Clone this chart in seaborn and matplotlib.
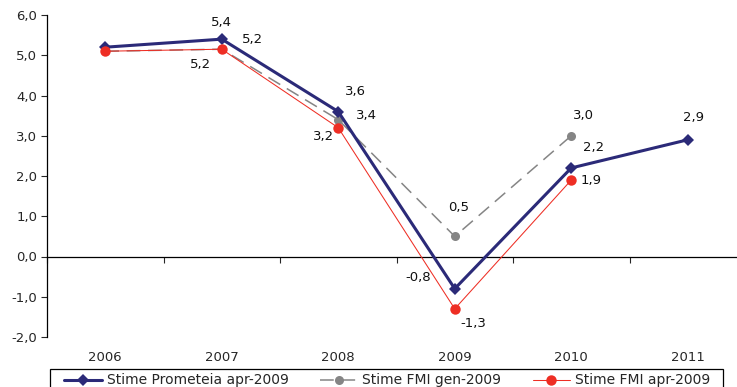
import numpy as np
import pandas as pd
import matplotlib
matplotlib.use("Agg")
import matplotlib.pyplot as plt
from matplotlib.patches import Rectangle
import seaborn as sns

# dati
anni = ['2006', '2007', '2008', '2009', '2010', '2011']
prometeia = [5.2, 5.4, 3.6, -0.8, 2.2, 2.9]
fmi_gen = [5.1, 5.15, 3.4, 0.5, 3.0, np.nan]
fmi_apr = [5.1, 5.15, 3.2, -1.3, 1.9, np.nan]

# offset delle etichette (pixel) per ogni punto etichettato
lab_prometeia = {1: (0, 17), 2: (17, 20), 3: (-37, 11), 4: (22, 20), 5: (6, 22)}
lab_gen = {1: (31, 10), 2: (28, 4), 3: (4, 29), 4: (12, 20)}
lab_apr = {1: (-21, -15), 2: (-15, -9), 3: (19, -15), 4: (20, 0)}

df = pd.DataFrame({'pos': np.arange(len(anni)), 'anno': anni,
                   'Prometeia': prometeia, 'gen': fmi_gen, 'apr': fmi_apr})

sns.set_style('white')
plt.rcParams['font.family'] = ['DejaVu Sans']

fig = plt.figure(figsize=(7.37, 3.87), dpi=100)
ax = fig.add_axes([47 / 737, 1 - 337 / 387, 699 / 737, 322 / 387])

navy = '#2B2A78'
grigio = '#858585'
rosso = '#EE2E24'

sns.lineplot(data=df, x='pos', y='gen', ax=ax, color=grigio, lw=1.1,
             dashes=False, linestyle=(0, (9, 5)), marker='o', markersize=6.5,
             markeredgewidth=0, label='Stime FMI gen-2009', zorder=2)
sns.lineplot(data=df, x='pos', y='Prometeia', ax=ax, color=navy, lw=2.2,
             marker='D', markersize=6.5, markeredgewidth=0,
             label='Stime Prometeia apr-2009', zorder=3)
sns.lineplot(data=df, x='pos', y='apr', ax=ax, color=rosso, lw=0.75,
             marker='o', markersize=7.5, markeredgewidth=0,
             label='Stime FMI apr-2009', zorder=4)

def etichette(valori, offsets):
    for i, (dx, dy) in offsets.items():
        v = valori[i]
        ax.annotate(f'{v:.1f}'.replace('.', ','), (df['pos'][i], v),
                    xytext=(dx, dy), textcoords='offset pixels',
                    ha='center', va='center', fontsize=9.5, color='#111111')

etichette(prometeia, lab_prometeia)
etichette(fmi_gen, lab_gen)
etichette(fmi_apr, lab_apr)

ax.set_xlim(-0.5, len(anni) - 0.5)
ax.set_ylim(-2, 6)
ax.set_yticks(np.arange(-2, 7, 1))
ax.set_yticklabels([f'{t:.1f}'.replace('.', ',') for t in np.arange(-2, 7, 1)],
                   fontsize=9.5)
ax.tick_params(axis='y', direction='out', length=4, width=0.8, left=True, pad=3)

ax.spines['right'].set_visible(False)
ax.spines['top'].set_visible(False)
ax.spines['left'].set_linewidth(0.9)
ax.spines['left'].set_color('black')
ax.spines['bottom'].set_position(('data', 0))
ax.spines['bottom'].set_linewidth(0.9)
ax.spines['bottom'].set_color('black')
ax.set_xticks(np.arange(len(anni) + 1) - 0.5)
ax.set_xticklabels([])
ax.tick_params(axis='x', direction='out', length=4, width=0.8, bottom=True)
ax.set_xlabel('')
ax.set_ylabel('')

sec = ax.secondary_xaxis('bottom')
sec.set_xticks(np.arange(len(anni)))
sec.set_xticklabels(anni, fontsize=9.5)
sec.tick_params(length=0, pad=10)
sec.spines['bottom'].set_visible(False)

handles, labels = ax.get_legend_handles_labels()
order = [1, 0, 2]
ax.get_legend().remove()
leg = fig.legend([handles[i] for i in order], [labels[i] for i in order],
                 loc='upper left', bbox_to_anchor=(61 / 737, 1 - 370 / 387),
                 ncol=3, frameon=False, fontsize=10,
                 handlelength=2.7, handletextpad=0.35, columnspacing=2.25,
                 borderpad=0.25, borderaxespad=0)

# riquadro della legenda (tagliato dal bordo inferiore come nell'originale)
fig.patches.append(Rectangle((50 / 737, -0.1), 673 / 737, 0.1 + 18 / 387,
                             transform=fig.transFigure, fill=False,
                             edgecolor='black', lw=0.9))

fig.savefig('out.png', dpi=100)
